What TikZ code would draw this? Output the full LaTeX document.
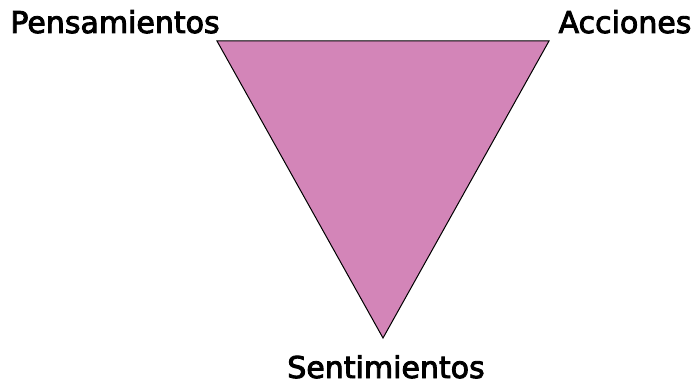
\documentclass[tikz,border=0pt]{standalone}
\usepackage{fontspec}
\setmainfont{DejaVu Sans}
\newfontfamily\lblfont[FakeBold=3]{DejaVu Sans}
\definecolor{tripink}{RGB}{211,133,184}
\begin{document}
\begin{tikzpicture}[x=1pt,y=-1pt,
  lbl/.style={font=\lblfont\fontsize{30}{34}\selectfont, inner sep=0pt, anchor=base}]
\useasboundingbox (0,0) rectangle (698,390);
\coordinate (tl) at (217,41);
\coordinate (tr) at (549,41);
\coordinate (bt) at (383,338);
\fill[tripink] (tl) -- (tr) -- (bt) -- cycle;
\draw[black, line width=1pt, line join=miter] (tl) -- (tr) -- (bt) -- cycle;
\node[lbl] (p) at (115,33) {Pensamientos};
\node[lbl] (a) at (625,33) {Acciones};
\node[lbl] (s) at (386,378) {Sentimientos};
\end{tikzpicture}
\end{document}
